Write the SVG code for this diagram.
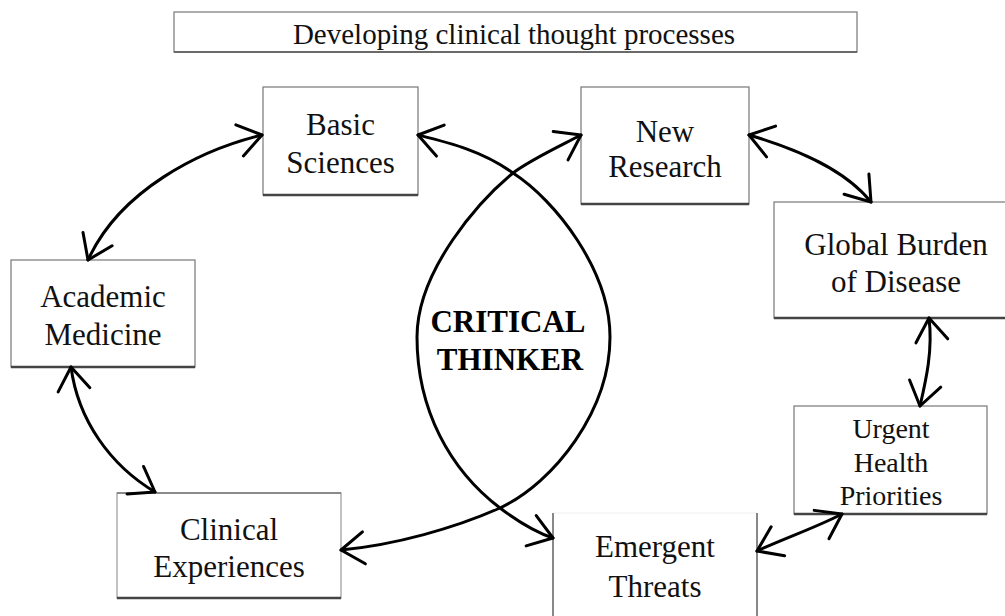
<svg xmlns="http://www.w3.org/2000/svg" width="1005" height="616" viewBox="0 0 1005 616">
<defs>
<style>
.box{fill:#fff;stroke:#777;stroke-width:1.2}
.shadow{stroke:#444;stroke-width:2.5;fill:none}
.t{font-family:"Liberation Serif","Times New Roman",serif;font-size:31px;fill:#111;text-anchor:middle}
.ts{font-size:28px}
.bold{font-weight:bold;fill:#000}
.c{fill:none;stroke:#000;stroke-width:3;stroke-linecap:round;marker-start:url(#ah);marker-end:url(#ah)}
.lens{fill:none;stroke:#000;stroke-width:3;stroke-linecap:round}
</style>
<marker id="ah" viewBox="-30 -20 34 40" markerWidth="34" markerHeight="40" refX="0" refY="0" orient="auto-start-reverse" markerUnits="userSpaceOnUse">
<path d="M-23,-16 L0,0 L-23,16" fill="none" stroke="#000" stroke-width="3" stroke-linecap="round" stroke-linejoin="round"/>
</marker>
</defs>
<rect width="1005" height="616" fill="#fff"/>

<g id="title">
<rect x="174" y="12" width="683" height="40" class="box"/>
<line x1="174" y1="52" x2="857" y2="52" stroke="#555" stroke-width="1.5"/>
<text x="514" y="44" class="t" style="font-size:29px">Developing clinical thought processes</text>
</g>

<g id="basic-sciences">
<rect x="263" y="87" width="155" height="108" class="box"/>
<line x1="263" y1="195" x2="418" y2="195" class="shadow"/>
<text x="340.5" y="135" class="t">Basic</text>
<text x="340.5" y="173" class="t">Sciences</text>
</g>

<g id="new-research">
<rect x="581" y="87" width="168" height="117" class="box"/>
<line x1="581" y1="204" x2="749" y2="204" class="shadow"/>
<text x="665" y="142" class="t">New</text>
<text x="665" y="177" class="t">Research</text>
</g>

<g id="global-burden">
<rect x="774" y="202" width="240" height="116" class="box"/>
<line x1="774" y1="318" x2="1005" y2="318" class="shadow"/>
<text x="896" y="255" class="t">Global Burden</text>
<text x="896" y="292" class="t">of Disease</text>
</g>

<g id="academic-medicine">
<rect x="11" y="260" width="184" height="107" class="box"/>
<line x1="11" y1="367" x2="195" y2="367" class="shadow"/>
<text x="103" y="307" class="t">Academic</text>
<text x="103" y="345" class="t">Medicine</text>
</g>

<g id="clinical-experiences">
<rect x="117" y="493" width="224" height="105" class="box" style="stroke:#999"/>
<line x1="117" y1="493" x2="341" y2="493" stroke="#555" stroke-width="1.2"/>
<line x1="117" y1="598" x2="341" y2="598" class="shadow"/>
<text x="229" y="540" class="t">Clinical</text>
<text x="229" y="577" class="t">Experiences</text>
</g>

<g id="urgent-health">
<rect x="794" y="406" width="193" height="108" class="box"/>
<line x1="794" y1="514" x2="987" y2="514" class="shadow"/>
<text x="891" y="438" class="t ts">Urgent</text>
<text x="891" y="472" class="t ts">Health</text>
<text x="891" y="505" class="t ts">Priorities</text>
</g>

<g id="emergent-threats">
<line x1="553" y1="513" x2="757" y2="513" stroke="#eee" stroke-width="1"/>
<line x1="553" y1="513" x2="553" y2="616" stroke="#888" stroke-width="2"/>
<line x1="757" y1="513" x2="757" y2="616" stroke="#888" stroke-width="2"/>
<text x="655" y="557" class="t">Emergent</text>
<text x="655" y="597" class="t">Threats</text>
</g>

<g id="critical-thinker">
<text x="508" y="332" class="t bold">CRITICAL</text>
<text x="510" y="370" class="t bold">THINKER</text>
</g>

<g id="connectors">
<path class="c" d="M262,135 C200,150 120,190 88,260"/>
<path class="c" d="M71,367 C78,420 110,465 155,492"/>
<path class="c" d="M749,135 C800,150 845,170 871,202"/>
<path class="c" d="M929,318 C933,350 926,380 920,406"/>
<path class="c" d="M842,514 C815,528 785,538 757,551"/>
<path class="c" d="M418,135 C450,143 483,151 513,173 C555,200 610,270 610,337 C610,410 555,482 500,508 C455,528 395,545 341,550"/>
<path class="c" d="M581,135 C560,146 530,160 513,173 C480,200 417,270 417,337 C417,410 450,470 500,508 C520,523 535,532 553,538"/>
</g>
</svg>
